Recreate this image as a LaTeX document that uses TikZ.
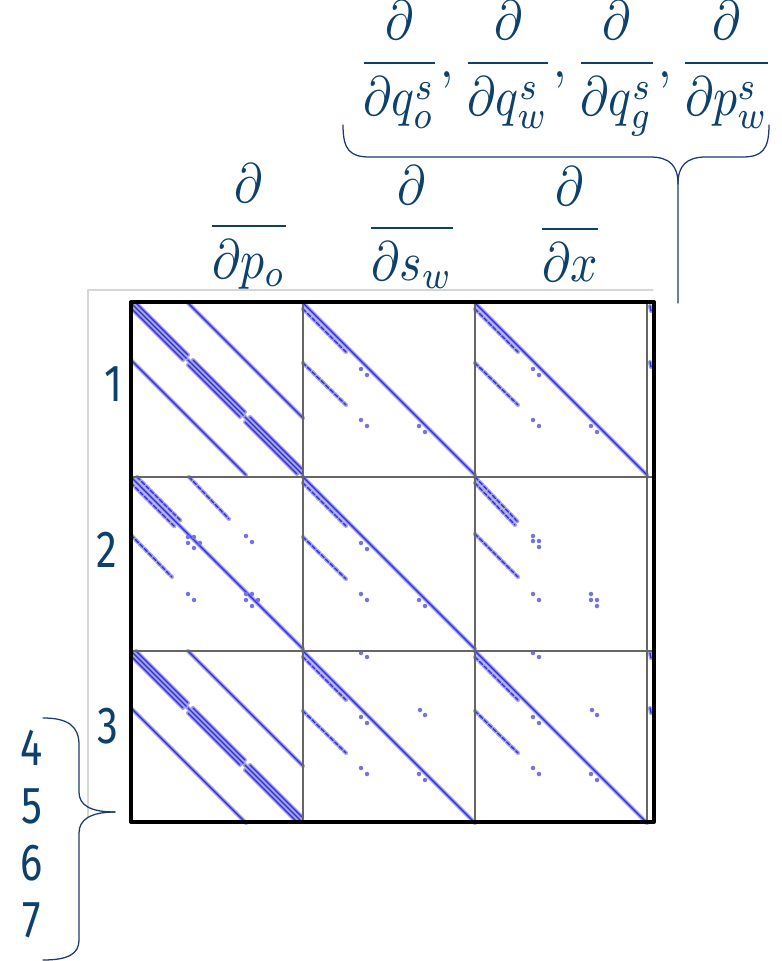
\documentclass[tikz,border=0pt]{standalone}
\usepackage{fontspec}
\newfontfamily\numfont{Fira Sans}[FakeStretch=0.8]
\definecolor{navy}{HTML}{0D416B}
\definecolor{bracec}{HTML}{1B3A72}
\definecolor{core}{HTML}{2A2AF2}
\definecolor{halo}{HTML}{A4A4DC}
\definecolor{framegray}{HTML}{D6D6D6}

% pressure-pressure block
\newcommand{\presblock}{%
  \foreach \a in {0,57,114}{
    \draw[nz] (\a,\a) -- (\a+57,\a+57);
    \draw[nz] (\a+5,\a) -- (\a+57,\a+52);
    \draw[nz] (\a,\a+5) -- (\a+52,\a+57);
  }
  \draw[nz] (57,0) -- (172,115);
  \draw[nz] (0,57) -- (115,172);
}
% coupling block with diagonal
\newcommand{\satblock}{%
  \draw[nz] (0,0) -- (172,172);
  \draw[nzdash] (0,6) -- (43,49);
  \draw[nzdash] (0,60) -- (43,102);
  \foreach \x/\y in {58/66,64/72,58/117,64/123,116/123,122/129}
    \fill[nzdot] (\x,\y) circle (1.6pt);
}
% row 2, first column
\newcommand{\lowblock}{%
  \draw[nz] (0,0) -- (172,172);
  \draw[nzdash] (0,6) -- (44,50);
  \draw[nzdash] (6,0) -- (50,44);
  \draw[nzdash] (58,0) -- (98,42);
  \draw[nzdash] (0,58) -- (41,100);
  \foreach \x/\y in {57/60,63/60,57/66,69/66,63/71,115/59,121/65,57/117,63/123,
                     115/117,121/117,115/123,127/123,121/129}
    \fill[nzdot] (\x,\y) circle (1.6pt);
}
% row 2, last column (no diagonal)
\newcommand{\xblock}{%
  \draw[nzdash] (0,0) -- (43,45);
  \draw[nzdash] (0,6) -- (40,48);
  \draw[nzdash] (0,57) -- (43,100);
  \foreach \x/\y in {58/59,58/64,64/64,64/70,58/117,64/123,116/117,116/123,122/123,122/129}
    \fill[nzdot] (\x,\y) circle (1.6pt);
}
\newcommand{\extradots}{%
  \foreach \x/\y in {58/2,64/6,117/59,122/64}
    \fill[nzdot] (\x,\y) circle (1.6pt);
}

\begin{document}
\begin{tikzpicture}[x=0.025cm,y=-0.025cm,line cap=round,line join=round,
  nz/.style={draw=halo,double=core,double distance=0.9pt,line width=1pt},
  nzdash/.style={nz,dash pattern=on 3pt off 1.5pt},
  nzdot/.style={fill=halo!60!core},
  blockline/.style={draw=black!60,line width=2pt},
  brace/.style={draw=bracec,line width=0.9pt},
  num/.style={navy,font=\numfont\fontsize{37}{44}\selectfont},
  deriv/.style={navy,xscale=3.4,yscale=3.95,anchor=base,inner sep=0pt}]
  \useasboundingbox (0,0) rectangle (782,961);

  % light frame
  \draw[framegray,line width=0.8pt] (88,818) -- (88,290) -- (653,290);

  % sparsity pattern
  \begin{scope}[shift={(131,303)}] \presblock \end{scope}
  \begin{scope}[shift={(303,303)}] \satblock \end{scope}
  \begin{scope}[shift={(475,303)}] \satblock \end{scope}
  \begin{scope}[shift={(131,477)}] \lowblock \end{scope}
  \begin{scope}[shift={(303,477)}] \satblock \end{scope}
  \begin{scope}[shift={(475,477)}] \xblock \end{scope}
  \begin{scope}[shift={(131,651)}] \presblock \end{scope}
  \begin{scope}[shift={(303,651)}] \satblock \extradots \end{scope}
  \begin{scope}[shift={(475,651)}] \satblock \extradots \end{scope}
  \foreach \y in {306,362,653,708}
    \draw[nz] (650,\y) -- (651,\y+5);

  % block grid and border
  \draw[blockline] (303,302) -- (303,822) (475,302) -- (475,822) (647,302) -- (647,822);
  \draw[blockline] (131,477) -- (654,477) (131,651) -- (654,651);
  \draw[line width=2.8pt] (131,302) rectangle (654,822);

  % equation numbers
  \node[num] (r1) at (114,384) {1};
  \node[num] (r2) at (107,550) {2};
  \node[num] (r3) at (108,726) {3};
  \node[num] (r4) at (32,748) {4};
  \node[num] (r5) at (32,806) {5};
  \node[num] (r6) at (32,863) {6};
  \node[num] (r7) at (32,920) {7};

  % unknowns
  \node[deriv] (dpo) at (249,240) {$\displaystyle\frac{\partial}{\partial p_o}$};
  \node[deriv] (dsw) at (412,242) {$\displaystyle\frac{\partial}{\partial s_w}$};
  \node[deriv] (dx) at (570,243) {$\displaystyle\frac{\partial}{\partial x}$};
  \node[deriv] (dwell) at (566,77)
    {$\displaystyle\frac{\partial}{\partial q_o^s},\frac{\partial}{\partial q_w^s},
      \frac{\partial}{\partial q_g^s},\frac{\partial}{\partial p_w^s}$};

  % braces
  \draw[brace] (343,125) .. controls (343,150) and (350,157) .. (370,157) -- (650,157)
    .. controls (670,157) and (678,166) .. (678,184) -- (678,303);
  \draw[brace] (678,184) .. controls (678,166) and (686,157) .. (706,157) -- (742,157)
    .. controls (762,157) and (769,150) .. (769,125);
  \draw[brace] (43,718) .. controls (68,718) and (79,726) .. (79,745) -- (79,792)
    .. controls (79,805) and (90,812) .. (115,812);
  \draw[brace] (115,812) .. controls (90,812) and (79,820) .. (79,833) -- (79,940)
    .. controls (79,954) and (68,960) .. (43,960);
\end{tikzpicture}
\end{document}
